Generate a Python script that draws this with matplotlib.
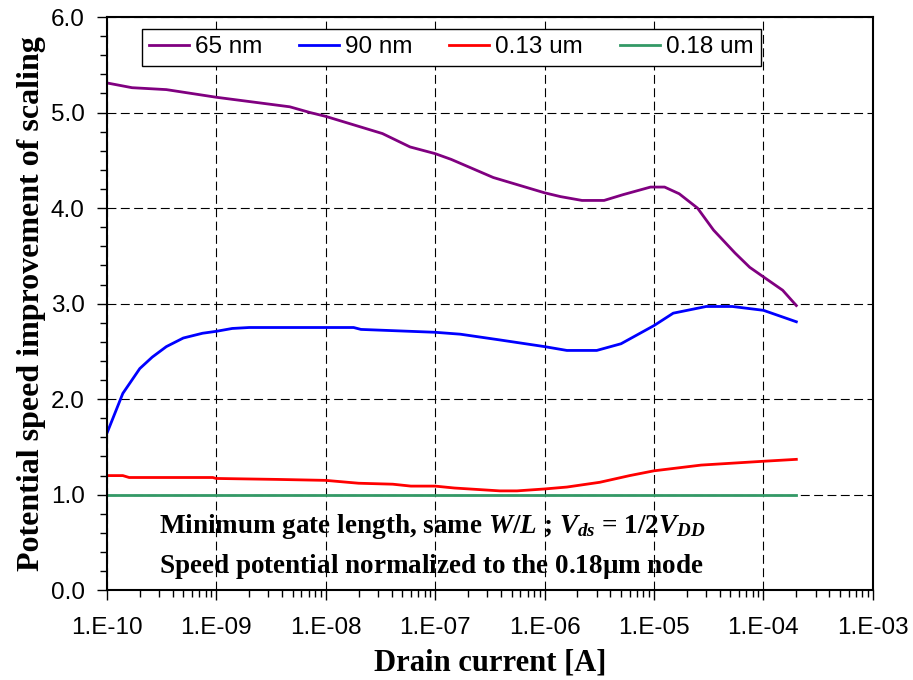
import matplotlib
matplotlib.use("Agg")
import matplotlib.pyplot as plt
import numpy as np

plt.rcParams['mathtext.fontset'] = 'custom'
plt.rcParams['mathtext.rm'] = 'Liberation Serif:bold'
plt.rcParams['mathtext.it'] = 'Liberation Serif:italic:bold'
plt.rcParams['mathtext.bf'] = 'Liberation Serif:bold'

# drain current [A] and speed improvement
i_65 = [1e-10, 1.7e-10, 3.5e-10, 1e-9, 4.7e-9, 7.2e-9, 1e-8, 3.3e-8, 5.9e-8, 1e-7,
        1.4e-7, 3.4e-7, 1e-6, 1.4e-6, 2.2e-6, 3.5e-6, 5.2e-6, 9.3e-6, 1.25e-5,
        1.7e-5, 2.5e-5, 3.5e-5, 5.5e-5, 7.5e-5, 1e-4, 1.5e-4, 2e-4]
s_65 = [5.31, 5.26, 5.24, 5.16, 5.06, 5.00, 4.96, 4.78, 4.64, 4.57,
        4.51, 4.32, 4.16, 4.12, 4.08, 4.08, 4.14, 4.22, 4.22,
        4.15, 4.00, 3.77, 3.53, 3.38, 3.28, 3.14, 2.98]

i_90 = [1e-10, 1.4e-10, 2e-10, 2.6e-10, 3.5e-10, 5e-10, 7.5e-10, 1e-9, 1.4e-9, 2e-9,
        1.8e-8, 2.1e-8, 1e-7, 1.7e-7, 3.9e-7, 1e-6, 1.6e-6, 3e-6, 5e-6, 1e-5,
        1.5e-5, 3e-5, 5.2e-5, 1e-4, 2e-4]
s_90 = [1.64, 2.06, 2.32, 2.44, 2.55, 2.64, 2.69, 2.71, 2.74, 2.75,
        2.75, 2.73, 2.70, 2.68, 2.62, 2.55, 2.51, 2.51, 2.58, 2.77,
        2.90, 2.97, 2.97, 2.93, 2.81]

i_130 = [1e-10, 1.4e-10, 1.6e-10, 9.3e-10, 1e-9, 3.6e-9, 1e-8, 2e-8, 4.1e-8, 6e-8,
         1e-7, 1.5e-7, 3.9e-7, 5.6e-7, 1e-6, 1.6e-6, 3.2e-6, 6e-6, 1e-5, 2.7e-5,
         5.2e-5, 1e-4, 2e-4]
s_130 = [1.20, 1.20, 1.18, 1.18, 1.17, 1.16, 1.15, 1.12, 1.11, 1.09,
         1.09, 1.07, 1.04, 1.04, 1.06, 1.08, 1.13, 1.20, 1.25, 1.31,
         1.33, 1.35, 1.37]

i_180 = [1e-10, 2e-4]
s_180 = [1.0, 1.0]

labels = ['65 nm', '90 nm', '0.13 um', '0.18 um']
colors = ['#800080', '#0000FF', '#FF0000', '#339966']

fig = plt.figure(figsize=(9.13, 6.80), dpi=100)
ax = fig.add_axes([0.117, 0.132, 0.839, 0.843])

series = [(i_65, s_65), (i_90, s_90), (i_130, s_130), (i_180, s_180)]
for (x, y), lab, c in zip(series, labels, colors):
    ax.plot(x, y, color=c, lw=2.0, label=lab)

ax.set_xscale('log')
ax.set_xlim(1e-10, 1e-3)
ax.set_ylim(0, 6)
ax.set_yticks(np.arange(0, 6.01, 1.0))
ax.set_yticks(np.arange(0, 6.01, 0.2), minor=True)
ax.set_yticklabels(['%.1f' % v for v in np.arange(0, 6.01, 1.0)])
ax.set_xticks([10.0 ** k for k in range(-10, -2)])
ax.set_xticklabels(['1.E-%02d' % k for k in range(10, 2, -1)])

ax.grid(True, which='major', color='black', lw=0.8, linestyle=(0, (8, 4)))
ax.set_axisbelow(True)

ax.tick_params(which='both', direction='out', labelsize=17.5, color='black')
ax.tick_params(which='major', length=7, width=1)
ax.tick_params(which='minor', length=5, width=1)
ax.tick_params(axis='x', pad=12)
ax.tick_params(axis='y', pad=9)
for lab in ax.get_xticklabels() + ax.get_yticklabels():
    lab.set_family('Liberation Sans')
for sp in ax.spines.values():
    sp.set_linewidth(1.5)

ax.set_xlabel('Drain current [A]', family='Liberation Serif', fontweight='bold',
              fontsize=22, labelpad=7)
ax.set_ylabel('Potential speed improvement of scaling', family='Liberation Serif',
              fontweight='bold', fontsize=23, labelpad=3)

leg = ax.legend(loc='upper left', bbox_to_anchor=(0.0457, 0.979), ncol=4,
                fancybox=False, edgecolor='black', framealpha=1,
                prop={'family': 'Liberation Sans', 'size': 17.5},
                handlelength=1.65, columnspacing=1.5, handletextpad=0.25,
                borderpad=0.3, borderaxespad=0)
leg.get_frame().set_linewidth(1.0)

ax.text(0.068, 0.0995, r'Minimum gate length, same $W/L$ ; $V_{ds}$ = 1/2$V_{DD}$',
        transform=ax.transAxes, family='Liberation Serif', fontweight='bold',
        fontsize=19.5, va='baseline')
ax.text(0.068, 0.0297, r'Speed potential normalized to the 0.18$\mathrm{\mu}$m node',
        transform=ax.transAxes, family='Liberation Serif', fontweight='bold',
        fontsize=19.5, va='baseline')

fig.savefig('out.png', dpi=100)
